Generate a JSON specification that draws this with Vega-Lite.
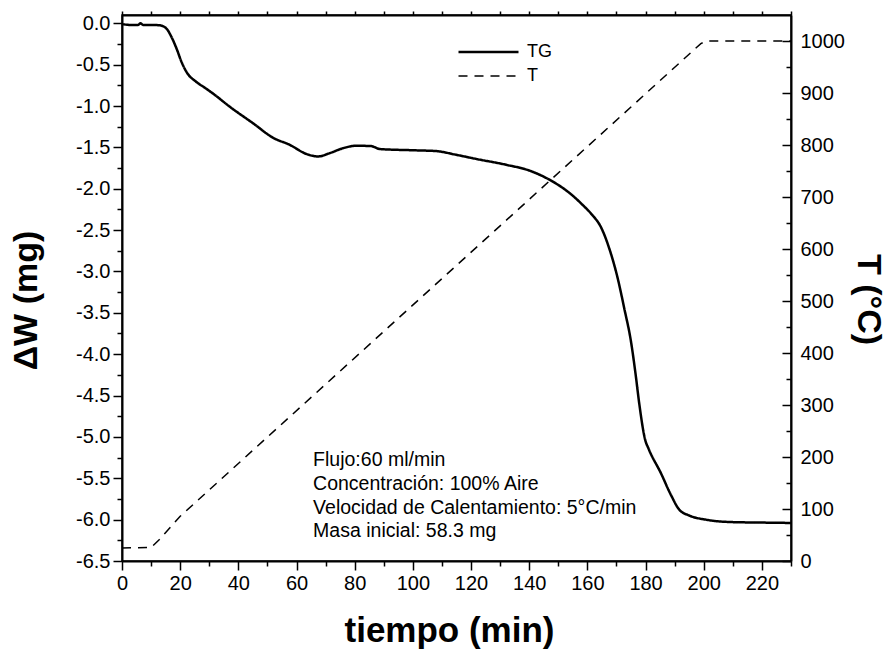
{
  "$schema": "https://vega.github.io/schema/vega-lite/v6.json",
  "width": 669,
  "height": 546,
  "autosize": "none",
  "padding": {"left": 122, "top": 15, "right": 99, "bottom": 89},
  "background": "white",
  "config": {
    "font": "Liberation Sans",
    "view": {"stroke": "black", "strokeWidth": 1.5},
    "axis": {
      "domainColor": "black", "domainWidth": 2, "tickColor": "black", "tickWidth": 1.5,
      "labelColor": "black", "titleColor": "black", "labelFont": "Liberation Sans", "titleFont": "Liberation Sans",
      "labelFontSize": 20, "titleFontSize": 34, "titleFontWeight": "bold", "grid": false, "labelOverlap": false, "labelFlush": false
    },
    "legend": {"labelFont": "Liberation Sans", "labelFontSize": 18, "labelColor": "black"}
  },
  "layer": [
    {
      "data": {"values": [
        {"series": "TG", "t": 0, "w": -0.01}, {"series": "TG", "t": 3, "w": -0.02}, {"series": "TG", "t": 5.5, "w": -0.02},
        {"series": "TG", "t": 6.4, "w": 0.0}, {"series": "TG", "t": 7.2, "w": -0.02}, {"series": "TG", "t": 10, "w": -0.02},
        {"series": "TG", "t": 13, "w": -0.025}, {"series": "TG", "t": 15.3, "w": -0.065}, {"series": "TG", "t": 17, "w": -0.165},
        {"series": "TG", "t": 18.8, "w": -0.31}, {"series": "TG", "t": 20.5, "w": -0.47}, {"series": "TG", "t": 22.2, "w": -0.59},
        {"series": "TG", "t": 25.6, "w": -0.71}, {"series": "TG", "t": 28.5, "w": -0.78}, {"series": "TG", "t": 31.3, "w": -0.85},
        {"series": "TG", "t": 37.1, "w": -1.01}, {"series": "TG", "t": 45.1, "w": -1.21}, {"series": "TG", "t": 52, "w": -1.385},
        {"series": "TG", "t": 57.7, "w": -1.47}, {"series": "TG", "t": 63.4, "w": -1.58}, {"series": "TG", "t": 67.4, "w": -1.61},
        {"series": "TG", "t": 71.4, "w": -1.57}, {"series": "TG", "t": 76, "w": -1.51}, {"series": "TG", "t": 80.6, "w": -1.48},
        {"series": "TG", "t": 85.7, "w": -1.485}, {"series": "TG", "t": 88.6, "w": -1.52}, {"series": "TG", "t": 100, "w": -1.535},
        {"series": "TG", "t": 108, "w": -1.545}, {"series": "TG", "t": 114.9, "w": -1.59}, {"series": "TG", "t": 121.8, "w": -1.64},
        {"series": "TG", "t": 132, "w": -1.71}, {"series": "TG", "t": 140, "w": -1.78}, {"series": "TG", "t": 146.9, "w": -1.89},
        {"series": "TG", "t": 153.8, "w": -2.05}, {"series": "TG", "t": 158.5, "w": -2.2}, {"series": "TG", "t": 161.5, "w": -2.31},
        {"series": "TG", "t": 164.6, "w": -2.46}, {"series": "TG", "t": 167.5, "w": -2.72}, {"series": "TG", "t": 170.4, "w": -3.08},
        {"series": "TG", "t": 172.7, "w": -3.45}, {"series": "TG", "t": 175, "w": -3.85}, {"series": "TG", "t": 176.6, "w": -4.25},
        {"series": "TG", "t": 177.8, "w": -4.59}, {"series": "TG", "t": 179.9, "w": -5.04}, {"series": "TG", "t": 181, "w": -5.14},
        {"series": "TG", "t": 185.3, "w": -5.44}, {"series": "TG", "t": 188.7, "w": -5.7}, {"series": "TG", "t": 191.6, "w": -5.88},
        {"series": "TG", "t": 195, "w": -5.95}, {"series": "TG", "t": 200.7, "w": -6.0}, {"series": "TG", "t": 209.9, "w": -6.03},
        {"series": "TG", "t": 219, "w": -6.035}, {"series": "TG", "t": 230, "w": -6.04}
      ]},
      "mark": {"type": "line", "interpolate": "monotone"},
      "encoding": {
        "x": {"field": "t", "type": "quantitative", "scale": {"domain": [0, 230], "nice": false, "zero": false},
          "axis": {"orient": "bottom", "values": [0,10,20,30,40,50,60,70,80,90,100,110,120,130,140,150,160,170,180,190,200,210,220,230],
            "labelExpr": "datum.value % 20 === 0 ? datum.label : ''",
            "tickSize": {"condition": {"test": "datum.value % 20 === 0", "value": 9}, "value": 5},
            "labelPadding": 3, "title": "tiempo (min)", "titleFontSize": 35, "titlePadding": 20, "titleX": 327}},
        "y": {"field": "w", "type": "quantitative", "scale": {"domain": [-6.5, 0.1], "nice": false, "zero": false},
          "axis": {"orient": "left", "values": [-6.5,-6.25,-6,-5.75,-5.5,-5.25,-5,-4.75,-4.5,-4.25,-4,-3.75,-3.5,-3.25,-3,-2.75,-2.5,-2.25,-2,-1.75,-1.5,-1.25,-1,-0.75,-0.5,-0.25,0],
            "format": ".1f",
            "labelExpr": "abs(datum.value*2 - round(datum.value*2)) < 0.001 ? replace(datum.label, '\u2212', '-') : ''",
            "tickSize": {"condition": {"test": "abs(datum.value*2 - round(datum.value*2)) < 0.001", "value": 9}, "value": 5},
            "labelPadding": 3, "title": "ΔW (mg)", "titlePadding": 32, "titleY": 285}},
        "color": {"field": "series", "type": "nominal", "scale": {"domain": ["TG", "T"], "range": ["black", "black"]},
          "legend": {"orient": "none", "legendX": 335, "legendY": 25, "title": null, "symbolType": "stroke", "symbolSize": 3600, "clipHeight": 24, "labelOffset": 7, "rowPadding": 0, "padding": 0}},
        "strokeDash": {"field": "series", "type": "nominal", "scale": {"domain": ["TG", "T"], "range": [[1, 0], [9, 7]]},
          "legend": {"orient": "none", "legendX": 335, "legendY": 25, "title": null, "symbolType": "stroke", "symbolSize": 3600, "clipHeight": 24, "labelOffset": 7, "rowPadding": 0, "padding": 0}},
        "strokeWidth": {"field": "series", "type": "nominal", "scale": {"domain": ["TG", "T"], "range": [2.5, 1.5]},
          "legend": {"orient": "none", "legendX": 335, "legendY": 25, "title": null, "symbolType": "stroke", "symbolSize": 3600, "clipHeight": 24, "labelOffset": 7, "rowPadding": 0, "padding": 0}}
      }
    },
    {
      "data": {"values": [
        {"series": "T", "t": 0, "T": 25}, {"series": "T", "t": 10, "T": 26}, {"series": "T", "t": 13, "T": 42},
        {"series": "T", "t": 20, "T": 86}, {"series": "T", "t": 199, "T": 995}, {"series": "T", "t": 201, "T": 1000},
        {"series": "T", "t": 230, "T": 1000}
      ]},
      "mark": {"type": "line"},
      "encoding": {
        "x": {"field": "t", "type": "quantitative",
          "axis": {"orient": "top", "values": [0,10,20,30,40,50,60,70,80,90,100,110,120,130,140,150,160,170,180,190,200,210,220,230],
            "labels": false, "tickSize": 4, "title": null}},
        "y": {"field": "T", "type": "quantitative", "scale": {"domain": [0, 1050], "nice": false, "zero": false},
          "axis": {"orient": "right", "values": [0,50,100,150,200,250,300,350,400,450,500,550,600,650,700,750,800,850,900,950,1000],
            "format": "d",
            "labelExpr": "datum.value % 100 === 0 ? datum.label : ''",
            "tickSize": {"condition": {"test": "datum.value % 100 === 0", "value": -9}, "value": -5},
            "labelPadding": 18, "title": "T (°C)", "titleAngle": 90, "titlePadding": 6, "titleY": 284}},
        "color": {"field": "series", "type": "nominal"},
        "strokeDash": {"field": "series", "type": "nominal"},
        "strokeWidth": {"field": "series", "type": "nominal"}
      }
    },
    {
      "data": {"values": [
        {"t": 65.7, "y": -5.28, "label": "Flujo:60 ml/min"},
        {"t": 65.7, "y": -5.57, "label": "Concentración: 100% Aire"},
        {"t": 65.7, "y": -5.86, "label": "Velocidad de Calentamiento: 5°C/min"},
        {"t": 65.7, "y": -6.14, "label": "Masa inicial: 58.3 mg"}
      ]},
      "mark": {"type": "text", "align": "left", "baseline": "middle", "fontSize": 19.5, "font": "Liberation Sans", "color": "black"},
      "encoding": {
        "x": {"field": "t", "type": "quantitative", "axis": null},
        "y": {"field": "y", "type": "quantitative", "scale": {"domain": [-6.5, 0.1], "nice": false, "zero": false}, "axis": null},
        "text": {"field": "label"}
      }
    }
  ],
  "resolve": {"scale": {"y": "independent"}, "axis": {"x": "independent", "y": "independent"}}
}
